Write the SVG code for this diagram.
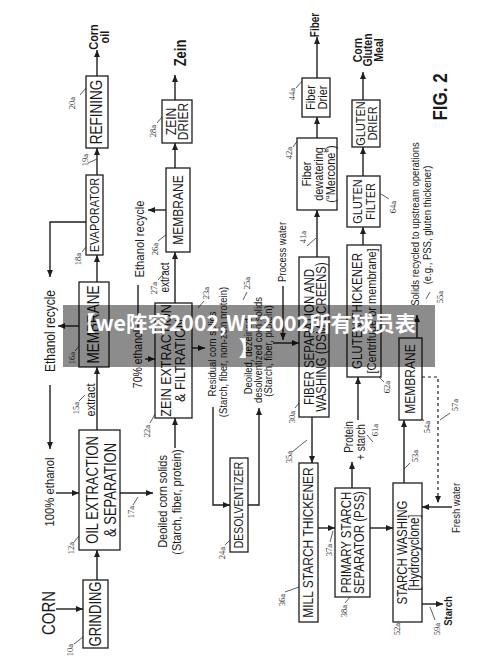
<svg xmlns="http://www.w3.org/2000/svg" width="500" height="672" viewBox="0 0 500 672">
<style>
.b{fill:#fff;stroke:#1e1e1e;stroke-width:1.3}
.l{fill:none;stroke:#1e1e1e;stroke-width:1.4}
.d{fill:none;stroke:#1e1e1e;stroke-width:1.2;stroke-dasharray:3 3}
.ld{fill:none;stroke:#333;stroke-width:0.8}
.t{font-family:"Liberation Sans",Arial,sans-serif;fill:#1a1a1a;text-anchor:middle;dominant-baseline:central}
.bd{font-weight:bold}
.r{font-family:"Liberation Serif","Times New Roman",serif;font-size:8.5px;fill:#333;text-anchor:middle;dominant-baseline:central}
</style>
<defs>
<marker id="a" markerUnits="userSpaceOnUse" markerWidth="8" markerHeight="7" refX="7" refY="3" orient="auto">
<path d="M0,0 L7,3 L0,6 z" fill="#1e1e1e"/>
</marker>
</defs>
<rect width="500" height="672" fill="#fff"/>

<g id="connectors">
<path class="l" d="M56 609 H83" marker-end="url(#a)"/>
<path class="l" d="M97 580 V550" marker-end="url(#a)"/>
<path class="l" d="M56 493 H79" marker-end="url(#a)"/>
<path class="l" d="M97 430 V367" marker-end="url(#a)"/>
<path class="l" d="M97 282 V255" marker-end="url(#a)"/>
<path class="l" d="M97 175 V148" marker-end="url(#a)"/>
<path class="l" d="M97 76 V50" marker-end="url(#a)"/>
<path class="l" d="M86 222 H50 V277" marker-end="url(#a)"/>
<path class="l" d="M50 385 V449" marker-end="url(#a)"/>
<path class="l" d="M79 326 H58" marker-end="url(#a)"/>
<path class="l" d="M120 493 H153" marker-end="url(#a)"/>
<path class="l" d="M175 448 V418" marker-end="url(#a)"/>
<path class="l" d="M145 359 H155" marker-end="url(#a)"/>
<path class="l" d="M138 285 V328"/>
<path class="l" d="M168 210 H148" marker-end="url(#a)"/>
<path class="l" d="M175 303 V252" marker-end="url(#a)"/>
<path class="l" d="M175 168 V143" marker-end="url(#a)"/>
<path class="l" d="M175 100 V75" marker-end="url(#a)"/>
<path class="l" d="M192 348 H205" marker-end="url(#a)"/>
<path class="l" d="M213 407 V505 H230" marker-end="url(#a)"/>
<path class="l" d="M248 505 H259 V408" marker-end="url(#a)"/>
<path class="l" d="M273 343 H299" marker-end="url(#a)"/>
<path class="l" d="M283 286 V340" marker-end="url(#a)"/>
<path class="l" d="M317 257 V210" marker-end="url(#a)"/>
<path class="l" d="M317 138 V117" marker-end="url(#a)"/>
<path class="l" d="M317 78 V37" marker-end="url(#a)"/>
<path class="l" d="M312 417 V463" marker-end="url(#a)"/>
<path class="l" d="M318 528 H335" marker-end="url(#a)"/>
<path class="l" d="M370 528 H393" marker-end="url(#a)"/>
<path class="l" d="M352 488 V462" marker-end="url(#a)"/>
<path class="l" d="M358 420 V377" marker-end="url(#a)"/>
<path class="l" d="M363 245 V227" marker-end="url(#a)"/>
<path class="l" d="M363 176 V147" marker-end="url(#a)"/>
<path class="l" d="M363 100 V72" marker-end="url(#a)"/>
<path class="l" d="M404 483 V420" marker-end="url(#a)"/>
<path class="l" d="M417 338 V315" marker-end="url(#a)"/>
<path class="d" d="M422 377 H438 V503" marker-end="url(#a)"/>
<path class="l" d="M452 507 H422" marker-end="url(#a)"/>
<path class="l" d="M422 604 H443" marker-end="url(#a)"/>
</g>

<g id="leaders">
<path class="ld" d="M74 644 L83 637"/>
<path class="ld" d="M74 542 L79 536"/>
<path class="ld" d="M79 401 L85 395"/>
<path class="ld" d="M75 351 L80 345"/>
<path class="ld" d="M133 505 L138 497"/>
<path class="ld" d="M82 252 L86 247"/>
<path class="ld" d="M88 163 L97 159"/>
<path class="ld" d="M80 95 L86 88"/>
<path class="ld" d="M150 423 L155 414"/>
<path class="ld" d="M204 301 L198 308"/>
<path class="ld" d="M225 545 L230 540"/>
<path class="ld" d="M247 292 L243 300"/>
<path class="ld" d="M158 241 L167 234"/>
<path class="ld" d="M158 280 L165 272"/>
<path class="ld" d="M157 123 L162 117"/>
<path class="ld" d="M295 408 L299 403"/>
<path class="ld" d="M292 452 L307 440"/>
<path class="ld" d="M285 592 L299 587"/>
<path class="ld" d="M330 542 L333 531"/>
<path class="ld" d="M345 603 L350 597"/>
<path class="ld" d="M307 246 L316 238"/>
<path class="ld" d="M293 147 L298 140"/>
<path class="ld" d="M296 88 L303 80"/>
<path class="ld" d="M410 463 L404 469"/>
<path class="ld" d="M424 421 L420 416"/>
<path class="ld" d="M430 292 L426 299"/>
<path class="ld" d="M450 413 L440 420"/>
<path class="ld" d="M435 620 L430 607"/>
<path class="ld" d="M367 435 L373 442"/>
<path class="ld" d="M379 377 L384 382"/>
<path class="ld" d="M389 199 L381 194"/>
</g>

<g id="grinding"><rect class="b" x="83" y="580" width="25" height="68"/><text class="t" font-size="13" transform="translate(96 614) scale(1.2 1) rotate(-90)">GRINDING</text></g>
<g id="oil-extraction"><rect class="b" x="79" y="430" width="41" height="120"/><text class="t" font-size="13" transform="translate(93 490) scale(1.2 1) rotate(-90)">OIL EXTRACTION</text><text class="t" font-size="13" transform="translate(111 490) scale(1.2 1) rotate(-90)">&amp; SEPARATION</text></g>
<g id="membrane-16a"><rect class="b" x="79" y="282" width="30" height="85"/><text class="t" font-size="13.5" transform="translate(94 324.5) scale(1.2 1) rotate(-90)">MEMBRANE</text></g>
<g id="evaporator"><rect class="b" x="86" y="175" width="17" height="80"/><text class="t" font-size="11" transform="translate(94.5 215) scale(1.2 1) rotate(-90)">EVAPORATOR</text></g>
<g id="refining"><rect class="b" x="86" y="76" width="22" height="72"/><text class="t" font-size="13.5" transform="translate(97 112) scale(1.2 1) rotate(-90)">REFINING</text></g>
<g id="zein-extraction"><rect class="b" x="155" y="303" width="37" height="115"/><text class="t" font-size="12.5" transform="translate(166 360.5) scale(1.2 1) rotate(-90)">ZEIN EXTRACTION</text><text class="t" font-size="12.5" transform="translate(180 360.5) scale(1.2 1) rotate(-90)">&amp; FILTRATION</text></g>
<g id="membrane-26a"><rect class="b" x="166" y="168" width="24" height="84"/><text class="t" font-size="12" transform="translate(178 210) scale(1.2 1) rotate(-90)">MEMBRANE</text></g>
<g id="zein-drier"><rect class="b" x="162" y="100" width="30" height="43"/><text class="t" font-size="12" transform="translate(171 121.5) scale(1.2 1) rotate(-90)">ZEIN</text><text class="t" font-size="12" transform="translate(183.5 121.5) scale(1.2 1) rotate(-90)">DRIER</text></g>
<g id="desolventizer"><rect class="b" x="230" y="458" width="18" height="94"/><text class="t" font-size="10.5" transform="translate(239 505) scale(1.2 1) rotate(-90)">DESOLVENTIZER</text></g>
<g id="fiber-separation"><rect class="b" x="299" y="257" width="30" height="160"/><text class="t" font-size="11.5" transform="translate(309.5 337) scale(1.2 1) rotate(-90)">FIBER SEPARATION AND</text><text class="t" font-size="11.5" transform="translate(322 337) scale(1.2 1) rotate(-90)">WASHING (DSM SCREENS)</text></g>
<g id="mill-starch-thickener"><rect class="b" x="299" y="463" width="19" height="159"/><text class="t" font-size="12" transform="translate(308.5 542.5) scale(1.2 1) rotate(-90)">MILL STARCH THICKENER</text></g>
<g id="pss"><rect class="b" x="335" y="488" width="35" height="109"/><text class="t" font-size="11.5" transform="translate(347 542.5) scale(1.2 1) rotate(-90)">PRIMARY STARCH</text><text class="t" font-size="11.5" transform="translate(360 542.5) scale(1.2 1) rotate(-90)">SEPARATOR (PSS)</text></g>
<g id="fiber-dewatering"><rect class="b" x="297" y="138" width="40" height="72"/><text class="t" font-size="11" transform="translate(307 174) scale(1.2 1) rotate(-90)">Fiber</text><text class="t" font-size="11" transform="translate(319 174) scale(1.2 1) rotate(-90)">dewatering</text><text class="t" font-size="11" transform="translate(331 174) scale(1.2 1) rotate(-90)">(“Mercone”)</text></g>
<g id="fiber-drier"><rect class="b" x="302" y="78" width="28" height="39"/><text class="t" font-size="11" transform="translate(311 97.5) scale(1.2 1) rotate(-90)">Fiber</text><text class="t" font-size="11" transform="translate(323 97.5) scale(1.2 1) rotate(-90)">Drier</text></g>
<g id="gluten-thickener"><rect class="b" x="347" y="245" width="34" height="132"/><text class="t" font-size="11.5" transform="translate(358 311) scale(1.2 1) rotate(-90)">GLUTEN THICKENER</text><text class="t" font-size="11" transform="translate(372 311) scale(1.2 1) rotate(-90)">[Centrifuge or membrane]</text></g>
<g id="gluten-filter"><rect class="b" x="347" y="176" width="33" height="51"/><text class="t" font-size="11" transform="translate(357.5 201.5) scale(1.2 1) rotate(-90)">GLUTEN</text><text class="t" font-size="11" transform="translate(370.5 201.5) scale(1.2 1) rotate(-90)">FILTER</text></g>
<g id="gluten-drier"><rect class="b" x="352" y="100" width="28" height="47"/><text class="t" font-size="11" transform="translate(360.5 123.5) scale(1.2 1) rotate(-90)">GLUTEN</text><text class="t" font-size="11" transform="translate(373 123.5) scale(1.2 1) rotate(-90)">DRIER</text></g>
<g id="starch-washing"><rect class="b" x="393" y="483" width="29" height="139"/><text class="t" font-size="11.5" transform="translate(402.5 552.5) scale(1.2 1) rotate(-90)">STARCH WASHING</text><text class="t" font-size="11.5" transform="translate(415 552.5) scale(1.2 1) rotate(-90)">[Hydrocyclone]</text></g>
<g id="membrane-54a"><rect class="b" x="399" y="338" width="23" height="82"/><text class="t" font-size="12" transform="translate(410.5 379) scale(1.2 1) rotate(-90)">MEMBRANE</text></g>

<g id="labels">
<text class="t" font-size="15" transform="translate(49 613) scale(1.2 1) rotate(-90)">CORN</text>
<text class="t bd" font-size="11" transform="translate(94 37) scale(1.2 1) rotate(-90)">Corn</text>
<text class="t bd" font-size="11" transform="translate(105 37) scale(1.2 1) rotate(-90)">oil</text>
<text class="t bd" font-size="13" transform="translate(181 53) scale(1.2 1) rotate(-90)">Zein</text>
<text class="t bd" font-size="10" transform="translate(315 25) scale(1.2 1) rotate(-90)">Fiber</text>
<text class="t bd" font-size="10.5" transform="translate(357.5 50) scale(1.2 1) rotate(-90)">Corn</text>
<text class="t bd" font-size="10.5" transform="translate(368 50) scale(1.2 1) rotate(-90)">Gluten</text>
<text class="t bd" font-size="10.5" transform="translate(378.5 50) scale(1.2 1) rotate(-90)">Meal</text>
<text class="t bd" font-size="17" transform="translate(440 97) scale(1.2 1) rotate(-90)">FIG. 2</text>
<text class="t bd" font-size="9.5" transform="translate(448 611) scale(1.2 1) rotate(-90)">Starch</text>
<text class="t" font-size="12" transform="translate(50 331) scale(1.2 1) rotate(-90)">Ethanol recycle</text>
<text class="t" font-size="11.3" transform="translate(50 492) scale(1.2 1) rotate(-90)">100% ethanol</text>
<text class="t" font-size="11" transform="translate(91 400) scale(1.2 1) rotate(-90)">extract</text>
<text class="t" font-size="11.3" transform="translate(140 239) scale(1.2 1) rotate(-90)">Ethanol recycle</text>
<text class="t" font-size="10.5" transform="translate(138 359) scale(1.2 1) rotate(-90)">70% ethanol</text>
<text class="t" font-size="10" transform="translate(164.5 277.5) scale(1.2 1) rotate(-90)">extract</text>
<text class="t" font-size="9.5" transform="translate(212 354) scale(1.2 1) rotate(-90)">Residual corn solids</text>
<text class="t" font-size="9.5" transform="translate(223 352) scale(1.2 1) rotate(-90)">(Starch, fiber, non-zein protein)</text>
<text class="t" font-size="9.5" transform="translate(248 355) scale(1.2 1) rotate(-90)">Deoiled, dezeined,</text>
<text class="t" font-size="9.5" transform="translate(258 350) scale(1.2 1) rotate(-90)">desolventized corn solids</text>
<text class="t" font-size="9.5" transform="translate(268 351) scale(1.2 1) rotate(-90)">(Starch, fiber, protein)</text>
<text class="t" font-size="11" transform="translate(162.5 501.5) scale(1.2 1) rotate(-90)">Deoiled corn solids</text>
<text class="t" font-size="11" transform="translate(176.5 502) scale(1.2 1) rotate(-90)">(Starch, fiber, protein)</text>
<text class="t" font-size="9.5" transform="translate(282 252) scale(1.2 1) rotate(-90)">Process water</text>
<text class="t" font-size="9.5" transform="translate(415 224) scale(1.2 1) rotate(-90)">Solids recycled to upstream operations</text>
<text class="t" font-size="9.5" transform="translate(427 225) scale(1.2 1) rotate(-90)">(e.g., PSS, gluten thickener)</text>
<text class="t" font-size="10" transform="translate(348.5 437) scale(1.2 1) rotate(-90)">Protein</text>
<text class="t" font-size="10" transform="translate(361 442) scale(1.2 1) rotate(-90)">+ starch</text>
<text class="t" font-size="9.5" transform="translate(456 508) scale(1.2 1) rotate(-90)">Fresh water</text>
</g>

<g id="refs">
<text class="r" transform="translate(70 650) rotate(-90)">10a</text>
<text class="r" transform="translate(71 548) rotate(-90)">12a</text>
<text class="r" transform="translate(76 408) rotate(-90)">15a</text>
<text class="r" transform="translate(71.5 358) rotate(-90)">16a</text>
<text class="r" transform="translate(130.5 512) rotate(-90)">17a</text>
<text class="r" transform="translate(78 259) rotate(-90)">18a</text>
<text class="r" transform="translate(85 160) rotate(-90)">19a</text>
<text class="r" transform="translate(71.5 103) rotate(-90)">20a</text>
<text class="r" transform="translate(146.5 431) rotate(-90)">22a</text>
<text class="r" transform="translate(206 293) rotate(-90)">23a</text>
<text class="r" transform="translate(221.5 553) rotate(-90)">24a</text>
<text class="r" transform="translate(246.5 283) rotate(-90)">25a</text>
<text class="r" transform="translate(155 249) rotate(-90)">26a</text>
<text class="r" transform="translate(154 288) rotate(-90)">27a</text>
<text class="r" transform="translate(152.5 131) rotate(-90)">28a</text>
<text class="r" transform="translate(291.5 417) rotate(-90)">30a</text>
<text class="r" transform="translate(288.5 457) rotate(-90)">35a</text>
<text class="r" transform="translate(281.5 600) rotate(-90)">36a</text>
<text class="r" transform="translate(328.5 550) rotate(-90)">37a</text>
<text class="r" transform="translate(343.5 611) rotate(-90)">38a</text>
<text class="r" transform="translate(303 237) rotate(-90)">41a</text>
<text class="r" transform="translate(289 153) rotate(-90)">42a</text>
<text class="r" transform="translate(292 94) rotate(-90)">44a</text>
<text class="r" transform="translate(396.5 629) rotate(-90)">52a</text>
<text class="r" transform="translate(415 456) rotate(-90)">53a</text>
<text class="r" transform="translate(426.5 427) rotate(-90)">54a</text>
<text class="r" transform="translate(439.5 297) rotate(-90)">55a</text>
<text class="r" transform="translate(455 405) rotate(-90)">57a</text>
<text class="r" transform="translate(436.5 629) rotate(-90)">59a</text>
<text class="r" transform="translate(375 430) rotate(-90)">61a</text>
<text class="r" transform="translate(387 387) rotate(-90)">62a</text>
<text class="r" transform="translate(392.5 207) rotate(-90)">64a</text>
</g>

<g id="watermark">
<rect x="63" y="305" width="372" height="62" fill="#000" fill-opacity="0.45"/>
<text x="245" y="331" font-family="'Noto Sans CJK SC','Noto Sans',sans-serif" font-weight="bold" font-size="21" fill="#fff" text-anchor="middle" textLength="342" lengthAdjust="spacingAndGlyphs">【we阵容2002,WE2002所有球员表</text>
<text x="249" y="356" font-family="'Noto Sans CJK SC','Noto Sans',sans-serif" font-weight="bold" font-size="21" fill="#fff" text-anchor="middle">】</text>
</g>
</svg>
